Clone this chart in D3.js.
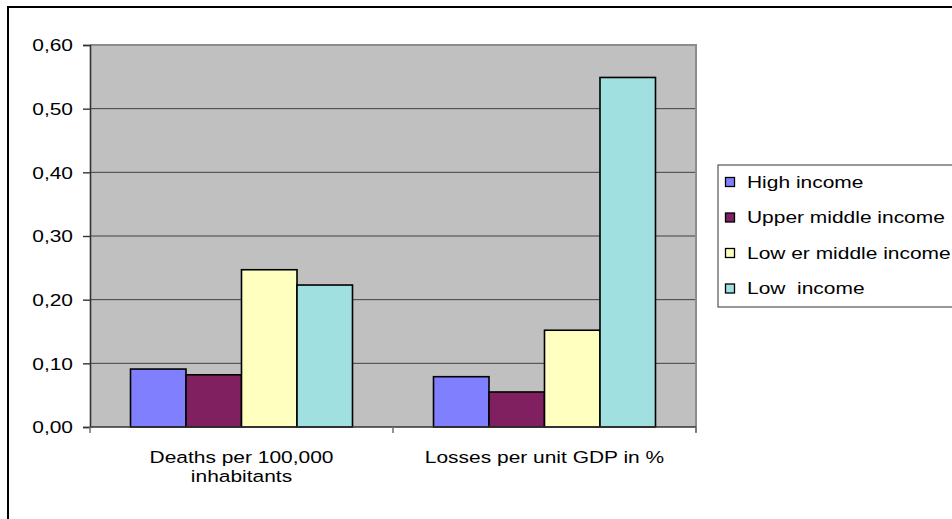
<!DOCTYPE html>
<html>
<head>
<meta charset="utf-8">
<script src="https://cdn.jsdelivr.net/npm/d3@7"></script>
<style>
  html, body { margin: 0; padding: 0; background: #fff; }
  text { font-family: "Liberation Sans", Arial, sans-serif; fill: #000; white-space: pre; }
</style>
</head>
<body>
<svg id="chart"></svg>
<script>
// Data
const categories = ["Deaths per 100,000 inhabitants", "Losses per unit GDP in %"];
const categoryLines = [["Deaths per 100,000", "inhabitants"], ["Losses per unit GDP in %"]];
const seriesNames = ["High income", "Upper middle income", "Low er middle income", "Low  income"];
const highIncome = [0.091, 0.079];
const upperMiddleIncome = [0.082, 0.055];
const lowerMiddleIncome = [0.247, 0.152];
const lowIncome = [0.223, 0.549];
const yTicks = [0, 0.1, 0.2, 0.3, 0.4, 0.5, 0.6];

const seriesValues = [highIncome, upperMiddleIncome, lowerMiddleIncome, lowIncome];
const colors = ["#8080ff", "#802060", "#ffffc0", "#a0e0e0"];

const width = 952;
const height = 519;
const plot = { left: 90, right: 696, top: 45, bottom: 427 };
const fontSize = 16.5;
const stretch = 1.27; // text in the picture is stretched horizontally

const svg = d3.select("#chart").attr("width", width).attr("height", height);

// Outer chart border (runs off the right and bottom edge)
svg.append("rect")
  .attr("x", 8).attr("y", 7)
  .attr("width", 1000).attr("height", 600)
  .attr("fill", "#fff")
  .attr("stroke", "#000")
  .attr("stroke-width", 2);

// Scales
const x0 = d3.scaleBand().domain(categories).range([plot.left, plot.right]);
const x1 = d3.scaleBand().domain(seriesNames).range([0, x0.bandwidth()])
  .paddingInner(0).paddingOuter(0.73);
const y = d3.scaleLinear().domain([0, 0.6]).range([plot.bottom, plot.top]);

// Plot area
svg.append("rect")
  .attr("x", plot.left).attr("y", plot.top)
  .attr("width", plot.right - plot.left).attr("height", plot.bottom - plot.top)
  .attr("fill", "#c0c0c0");

// Gridlines
svg.append("g")
  .selectAll("line")
  .data(yTicks.slice(1, -1))
  .join("line")
  .attr("x1", plot.left).attr("x2", plot.right)
  .attr("y1", d => y(d)).attr("y2", d => y(d))
  .attr("stroke", "#404040")
  .attr("stroke-width", 1);

// Top and right border of the plot area
svg.append("path")
  .attr("d", `M${plot.left},${plot.top}H${plot.right}V${plot.bottom + 5}`)
  .attr("fill", "none")
  .attr("stroke", "#8c8c8c")
  .attr("stroke-width", 2);

// Bars
const groups = svg.append("g")
  .selectAll("g")
  .data(categories)
  .join("g")
  .attr("transform", d => `translate(${x0(d)},0)`);

groups.selectAll("rect")
  .data((d, i) => seriesNames.map((s, j) => ({ s, j, v: seriesValues[j][i] })))
  .join("rect")
  .attr("x", d => x1(d.s))
  .attr("y", d => y(d.v))
  .attr("width", x1.bandwidth())
  .attr("height", d => y(0) - y(d.v))
  .attr("fill", d => colors[d.j])
  .attr("stroke", "#000")
  .attr("stroke-width", 1.6);

// Y axis
const yAxis = svg.append("g")
  .attr("transform", `translate(${plot.left},0)`)
  .call(d3.axisLeft(y).tickValues(yTicks).tickSize(7)
    .tickFormat(d => d3.format(".2f")(d).replace(".", ",")));
yAxis.select(".domain").attr("stroke", "#333").attr("stroke-width", 1.6);
yAxis.selectAll(".tick line").attr("stroke", "#333").attr("stroke-width", 1.4);
yAxis.selectAll(".tick text")
  .attr("x", null).attr("dy", "0.35em")
  .attr("transform", `translate(-17,0) scale(${stretch},1)`)
  .attr("text-anchor", "end")
  .style("font-size", fontSize + "px")
  .style("font-family", null);

// X axis line and category dividers
svg.append("line")
  .attr("x1", plot.left).attr("x2", plot.right)
  .attr("y1", plot.bottom).attr("y2", plot.bottom)
  .attr("stroke", "#333").attr("stroke-width", 1.6);
svg.append("g")
  .selectAll("line")
  .data(d3.range(categories.length + 1))
  .join("line")
  .attr("x1", i => plot.left + i * x0.step())
  .attr("x2", i => plot.left + i * x0.step())
  .attr("y1", plot.bottom).attr("y2", plot.bottom + 6)
  .attr("stroke", "#777").attr("stroke-width", 1.6);

// Category labels
categories.forEach((c, i) => {
  const t = svg.append("text")
    .attr("transform", `translate(${x0(c) + x0.bandwidth() / 2},463) scale(${stretch},1)`)
    .attr("text-anchor", "middle")
    .style("font-size", fontSize + "px");
  categoryLines[i].forEach((line, k) => {
    t.append("tspan").attr("x", 0).attr("y", k * 19.5).text(line);
  });
});

// Legend
const legend = svg.append("g").attr("transform", "translate(718,165)");
legend.append("rect")
  .attr("x", 0).attr("y", 0)
  .attr("width", 260).attr("height", 142)
  .attr("fill", "#fff")
  .attr("stroke", "#333")
  .attr("stroke-width", 1);

const items = legend.selectAll("g.item")
  .data(seriesNames)
  .join("g")
  .attr("class", "item")
  .attr("transform", (d, i) => `translate(0,${17 + i * 35.5})`);
items.append("rect")
  .attr("x", 7.5).attr("y", -4.5)
  .attr("width", 9).attr("height", 9)
  .attr("fill", (d, i) => colors[i])
  .attr("stroke", "#000")
  .attr("stroke-width", 1.3);
items.append("text")
  .attr("transform", `translate(29,0) scale(${stretch},1)`)
  .attr("dy", "0.36em")
  .style("font-size", fontSize + "px")
  .text(d => d);
</script>
</body>
</html>
